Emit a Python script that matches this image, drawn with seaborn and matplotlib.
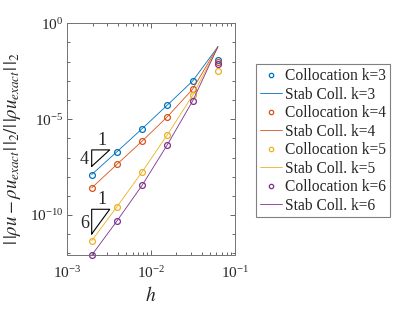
import numpy as np
import pandas as pd
import matplotlib
matplotlib.use('Agg')
import matplotlib.pyplot as plt
import seaborn as sns
from matplotlib.ticker import FixedLocator, NullFormatter, LogFormatterSciNotation

# grid spacing
h = [1/512, 1/256, 1/128, 1/64, 1/32, 1/16]
ks = [3, 4, 5, 6]

# collocation errors (markers)
coll_k3 = [1.3e-8, 2.0e-7, 3.2e-6, 5.5e-5, 9.8e-4, 1.23e-2]
coll_k4 = [2.6e-9, 4.4e-8, 7.2e-7, 1.35e-5, 3.7e-4, 1.0e-2]
coll_k5 = [4.6e-12, 2.7e-10, 1.8e-8, 1.55e-6, 1.74e-4, 3.2e-3]
coll_k6 = [8.0e-13, 4.9e-11, 3.6e-9, 4.7e-7, 8.9e-5, 7.2e-3]

# stabilised collocation errors (lines)
stab_k3 = [1.3e-8, 2.0e-7, 3.2e-6, 5.5e-5, 9.8e-4, 6.0e-2]
stab_k4 = [2.6e-9, 4.4e-8, 7.2e-7, 1.35e-5, 3.7e-4, 6.0e-2]
stab_k5 = [4.6e-12, 2.7e-10, 1.8e-8, 1.55e-6, 1.74e-4, 6.0e-2]
stab_k6 = [8.0e-13, 4.9e-11, 3.6e-9, 4.7e-7, 8.9e-5, 6.0e-2]

coll = [coll_k3, coll_k4, coll_k5, coll_k6]
stab = [stab_k3, stab_k4, stab_k5, stab_k6]
colors = ['#0072BD', '#D95319', '#EDB120', '#7E2F8E']

# slope triangles
tri_slopes = [4, 6]
tri_top = [2.5e-7, 2.0e-10]
tri_x0 = 1/512
tri_ratio = 1.64

sns.set_style('ticks')
plt.rcParams['font.family'] = ['Liberation Serif', 'DejaVu Serif']
plt.rcParams['mathtext.fontset'] = 'stix'

fig = plt.figure(figsize=(4.15, 3.12), dpi=100)
ax = fig.add_axes([0.1622, 0.1817, 0.4041, 0.7436])
ax.set_xscale('log')
ax.set_yscale('log')

for k, c, s, col in zip(ks, coll, stab, colors):
    sns.lineplot(x=h, y=c, ax=ax, marker='o', linestyle='', mfc='none', mec=col,
                 ms=4.2, mew=0.9, label='Collocation k=%d' % k, legend=False, clip_on=False)
    sns.lineplot(x=h, y=s, ax=ax, color=col, lw=0.6, label='Stab Coll. k=%d' % k, legend=False)

for sl, top in zip(tri_slopes, tri_top):
    x1 = tri_x0 * tri_ratio
    bot = top * tri_ratio ** (-sl)
    ax.plot([tri_x0, x1, tri_x0, tri_x0], [bot, top, top, bot], color='k', lw=0.8)
    ax.annotate('1', xy=(np.sqrt(tri_x0 * x1), top), xytext=(1, 1), textcoords='offset points',
                ha='center', va='bottom', fontsize=13)
    ax.annotate(str(sl), xy=(tri_x0, np.sqrt(top * bot)), xytext=(-2, -1), textcoords='offset points',
                ha='right', va='center', fontsize=13)

ax.set_xlim(1e-3, 1e-1)
ax.set_ylim(10 ** -12.1, 1)
ax.xaxis.set_major_locator(FixedLocator([1e-3, 1e-2, 1e-1]))
ax.xaxis.set_minor_locator(FixedLocator([m * 10.0 ** e for e in (-3, -2) for m in range(2, 10)]))
ax.yaxis.set_major_locator(FixedLocator([1e-10, 1e-5, 1e0]))
ax.yaxis.set_minor_locator(FixedLocator([10.0 ** -e for e in range(1, 13) if e % 5 != 0]))
ax.xaxis.set_major_formatter(LogFormatterSciNotation())
ax.yaxis.set_major_formatter(LogFormatterSciNotation())
ax.xaxis.set_minor_formatter(NullFormatter())
ax.yaxis.set_minor_formatter(NullFormatter())
ax.tick_params(which='both', direction='in', top=True, right=True, color='0.3', width=0.6,
               labelsize=11, labelcolor='0.15')
ax.tick_params(axis='x', which='major', pad=7)
ax.tick_params(axis='y', which='major', pad=3)
ax.tick_params(which='major', length=3.5)
ax.tick_params(which='minor', length=2)
for sp in ax.spines.values():
    sp.set_color('0.45')
    sp.set_linewidth(0.7)

ax.set_xlabel('$h$', fontsize=14)
ax.set_ylabel(r'$|\,|\rho u - \rho u_{exact}|\,|_2/|\,|\rho u_{exact}|\,|_2$', fontsize=13.5)
ax.yaxis.set_label_coords(-0.265, 0.46)

handles, labels = ax.get_legend_handles_labels()
leg = ax.legend(handles, labels, loc='upper left', bbox_to_anchor=(0.617, 0.794),
                bbox_transform=fig.transFigure, borderaxespad=0, fontsize=11.2,
                handlelength=1.4, handletextpad=0.2, labelspacing=0.16, borderpad=0.25,
                fancybox=False, framealpha=1, edgecolor='0.5', markerscale=0.75)
leg.get_frame().set_linewidth(0.8)

fig.savefig('out.png', dpi=100)
